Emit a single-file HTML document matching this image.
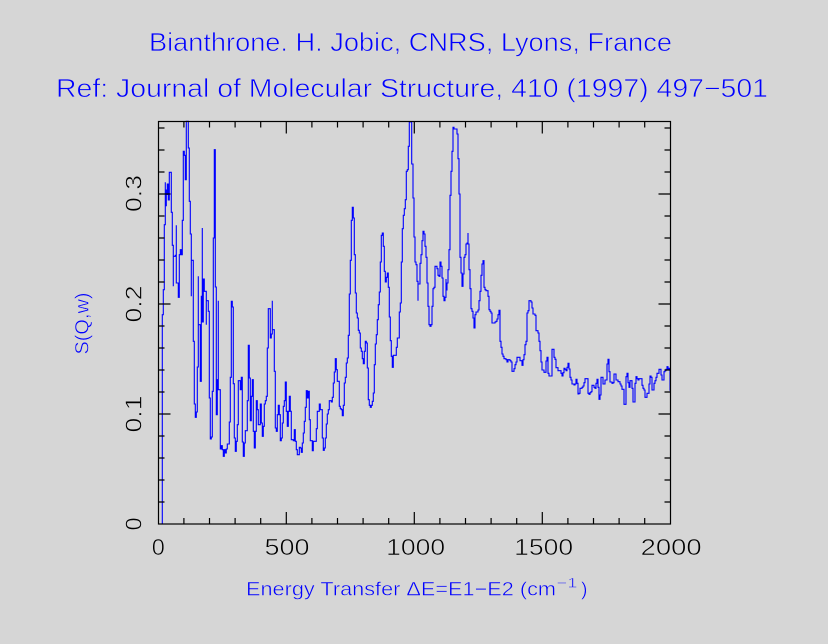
<!DOCTYPE html>
<html>
<head>
<meta charset="utf-8">
<style>
html,body{margin:0;padding:0;background:#d6d6d6;}
svg{display:block;}
text{font-family:"Liberation Sans",sans-serif;}
</style>
</head>
<body>
<svg width="828" height="644" viewBox="0 0 828 644" xmlns="http://www.w3.org/2000/svg">
<rect x="0" y="0" width="828" height="644" fill="#d6d6d6"/>

<!-- Titles -->
<g stroke="#d6d6d6" stroke-width="0.7">
<text x="149" y="51" font-size="26" fill="#0000ff" textLength="523" lengthAdjust="spacingAndGlyphs">Bianthrone. H. Jobic, CNRS, Lyons, France</text>
<text x="56" y="97" font-size="26" fill="#0000ff" textLength="712" lengthAdjust="spacingAndGlyphs">Ref: Journal of Molecular Structure, 410 (1997) 497−501</text>
</g>

<!-- Data curve -->
<path fill="none" stroke="#0000ff" stroke-width="1.1" d="M158.3 524H162.3V314.7H163.3V289.7H164.3V224.7H165.3V182.3V205.7H166.3V190H167.3V195V184H168.3V200H169.3V172.3H171.3V212.3H172.3V245.3H173.3V286.3V256.3H175.3V255.3H176.3V225.3V283H178.3V297.3H179.3V254.7H180.3V249.7H181.3V254.7H182.3V220.3H183.3V151.3H184.3V155.3H185.3V179.7H186.3V121.3H188.3V148H189.3V201.3H190.3V234H191.3V296.3V260.3H193.3V341.3H194.3V404H195.3V417.3H196.3V412H197.3V367H198.3V276.3V324.7H200.3V381.3H201.3V296.3H202.3V228V322H203.3V279H204.3V291.3H206.3V324.7V300.7H208.3V311.3H209.3V398H210.3V439H211.3V437H212.3V391.3H213.3V238H214.3V149.7H215.3V287H216.3V414.7H217.3V379.7H218.3V300.7V389.7H220.3V449H221.3V445.7H222.3V449.7H223.3V456.3H224.3V449.7H225.3V453H226.3V449H227.3V444H229.3V422H230.3V377.3H231.3V301.3H232.3V307H233.3V383.7H234.3V438H235.3V451.3H236.3V441.3H237.3V424.7H238.3V380.7H240.3V389.7H241.3V377.3H242.3V442H243.3V456.3H244.3V443H245.3V430.7H247.3V400.7H248.3V345.3H249.3V378H250.3V420.7H251.3V396.3H252.3V379.7H253.3V431.3H254.3V448H255.3V431.3H256.3V400.7H257.3V409.7H258.3V424.7H260.3V404H261.3V423H262.3V436.3H263.3V426.3H264.3V404H265.3V400.7H266.3V396.3H267.3V348H268.3V308.7H270.3V338H271.3V334H272.3V300.7V329.7H274.3V371.3H275.3V428H276.3V431.3H277.3V414.7H278.3V405.3H279.3V414.7H280.3V440.7H281.3V438H282.3V423H283.3V406.3H284.3V400.7H285.3V382H286.3V411.3H287.3V426.3H288.3V411.3H289.3V396.3H290.3V411.3H291.3V439.7H293.3V440.7H294.3V429.7H295.3V441.3H296.3V449.7H297.3V454.7H299.3V447.3H300.3V448H301.3V452.3H302.3V443H303.3V433H304.3V421.3H305.3V407.3H306.3V390.7H307.3V398H308.3V391.3H309.3V419.7H310.3V440.7H312.3V450.7H313.3V441.3H316.3V428.7H317.3V411.3H319.3V404H320.3V409.7H322.3V438H323.3V450.3H324.3V448H325.3V438H326.3V424H327.3V414H328.3V409.7H329.3V400.7H331.3V402H332.3V397.3H333.3V383H334.3V372H335.3V358.7H336.3V369.7H337.3V381.3H339.3V406.3H340.3V408.7H341.3V409.7H342.3V415.7H343.3V405.3H344.3V383H345.3V377.3H346.3V363H347.3V358H348.3V335.3H349.3V294H350.3V260.3H351.3V220.3H352.3V207.3H353.3V218H354.3V254.7H355.3V293H356.3V313H357.3V318H358.3V330.3H359.3V333H360.3V348H361.3V351.3H362.3V358.7H363.3V363.7H364.3V351.3H365.3V341.3H366.3V343H367.3V368H368.3V399.7H369.3V405.3H370.3V407.3H371.3V405.3H372.3V401.3H373.3V393H374.3V364.7H375.3V344H376.3V334.7H377.3V319.7H378.3V304.7H379.3V292H380.3V262H381.3V235.3H382.3V233H383.3V246.3H384.3V271.3H385.3V282H386.3V277.3H387.3V273H388.3V287.3H389.3V317H390.3V340.7H391.3V356.3H392.3V367.3H393.3V355.3H396.3V347.3H397.3V338H399.3V312H400.3V303H401.3V262H402.3V228.7H403.3V215.3H404.3V208.7H405.3V199.7H406.3V171.3H407.3V169.7H408.3V146.3H409.3V122H411.7V164H413V198H414V237H415V262H416V264.7H417V281.3H418V300.7V284H420V263.3H421V254.7H422V240.7H423V231.3H424V234H425V246.3H426V257.3H427V283H428V306.3H429V324.7H430V326.3H431V324.7H432V306.3H433V288.7H434V287.3H435V266.3H437V268.7H438V275.3H439V276.3H440V262H441V266.3H442V278H443V296.3H444V300.7H445V297.3H446V279V290H447V283H448V269.7H449V249.7H450V195.3H451V171.3H452V151.3H453V127.3H454V129H457V134H458V158.7H459V194H460V257.3H461V273H462V286.3H463V274H464V257.3H465V254.7H466V244H467V243H468V233V244H469V269.7H470V288.7H471V308.7H472V311.3H473V318H474V328H475V314.7H476V312H478V310H479V300.7H480V291.3H481V275.3H482V264H483V260.7H484V287.3H485V289.7H486V290.7H488V296.3H489V309.7H490V311.3H491V313H492V323H495V322H496V321.3H497V319H498V314.7H499V310.3H500V341.3H501V347.3H502V354H503V356.3H504V358.7H506V359.7H507V362H508V359.7H510V360.7H511V362H512V371.3H514V368.7H515V364.7H516V362H517V357.3H520V360.7H522V365.3H523V359.7H524V354.7H525V344.7H526V341.3H527V313H528V310.7H529V300.7H531V302H532V308H533V314H535V315.3H536V330.7H538V333H539V341.3H540V350.7H541V362H542V370H544V372.3H546V361H547V357.3H548V373.3H549V376H552V349.3H554V357.3H555V359.3H556V367.7H558V370.7H561V373.3H562V376H563V372.7H564V368.3H565V369.3H566V370.7H567V367.3H568V363.3H569V369H570V377.3H571V380H572V384H574V385H575V384H576V379.3H577V383.3H578V394H579V393.3H580V388.3H582V387.3H583V386H584V382.7H585V378.7H588V393.3H589V394.3H590V392.7H591V391.7H592V385.3H594V387.3H595V388.3H596V383.3H597V379.3H598V387.3H599V399.3H600V395H601V377.3H603V384H605V380H607V364H608V359.3H609V371.7H610V382H612V383.3H613V382.7H614V374H616V380H618V381.7H620V384H621V386H622V389.3H624V404.3H626V376.7H627V373.3H628V382.7H629V387.3H630V380.7H632V388.3H633V402H635V383.3H636V376.7H637V378.7H638V380H639V378.7H642V385.3H643V388.3H644V390H645V397.3H647V393.3H649V384H650V376H651V377.3H652V390H654V383.3H655V380.7H656V377.3H657V373.3H659V369.3H661V375H662V380H664V371.7H665V370.7H666V369.3H667V366.7H668V370H669V368.3H670V390.7"/>

<!-- Frame -->
<rect x="158.5" y="121.5" width="512" height="402.5" fill="none" stroke="#000" stroke-width="1.2"/>

<!-- Ticks -->
<path fill="none" stroke="#000" stroke-width="1.2" d="
M183.9 524v-6M209.5 524v-6M235.1 524v-6M260.7 524v-6M286.3 524v-12M311.9 524v-6M337.5 524v-6M363.1 524v-6M388.7 524v-6M414.3 524v-12M439.9 524v-6M465.5 524v-6M491.1 524v-6M516.7 524v-6M542.3 524v-12M567.9 524v-6M593.5 524v-6M619.1 524v-6M644.7 524v-6
M183.9 121.5v6M209.5 121.5v6M235.1 121.5v6M260.7 121.5v6M286.3 121.5v12M311.9 121.5v6M337.5 121.5v6M363.1 121.5v6M388.7 121.5v6M414.3 121.5v12M439.9 121.5v6M465.5 121.5v6M491.1 121.5v6M516.7 121.5v6M542.3 121.5v12M567.9 121.5v6M593.5 121.5v6M619.1 121.5v6M644.7 121.5v6
M158.5 502h6M158.5 480h6M158.5 458h6M158.5 436h6M158.5 414h12M158.5 392h6M158.5 370h6M158.5 348h6M158.5 326h6M158.5 304h12M158.5 282h6M158.5 260h6M158.5 238h6M158.5 216h6M158.5 194h12M158.5 172h6M158.5 150h6M158.5 128h6
M670.5 502h-6M670.5 480h-6M670.5 458h-6M670.5 436h-6M670.5 414h-12M670.5 392h-6M670.5 370h-6M670.5 348h-6M670.5 326h-6M670.5 304h-12M670.5 282h-6M670.5 260h-6M670.5 238h-6M670.5 216h-6M670.5 194h-12M670.5 172h-6M670.5 150h-6M670.5 128h-6"/>

<!-- X tick labels -->
<g font-size="23.5" fill="#000" text-anchor="middle" stroke="#d6d6d6" stroke-width="0.6">
<text x="158.3" y="555">0</text>
<text x="287" y="555" textLength="45" lengthAdjust="spacingAndGlyphs">500</text>
<text x="415.7" y="555" textLength="59" lengthAdjust="spacingAndGlyphs">1000</text>
<text x="543.7" y="555" textLength="59" lengthAdjust="spacingAndGlyphs">1500</text>
<text x="671.2" y="555" textLength="61" lengthAdjust="spacingAndGlyphs">2000</text>
</g>

<!-- Y tick labels -->
<g font-size="23.5" fill="#000" text-anchor="middle" stroke="#d6d6d6" stroke-width="0.6">
<text transform="translate(141.7 524) rotate(-90)">0</text>
<text transform="translate(141.7 414) rotate(-90)" textLength="37" lengthAdjust="spacingAndGlyphs">0.1</text>
<text transform="translate(141.7 304) rotate(-90)" textLength="37" lengthAdjust="spacingAndGlyphs">0.2</text>
<text transform="translate(141.7 193.5) rotate(-90)" textLength="37" lengthAdjust="spacingAndGlyphs">0.3</text>
</g>

<!-- Y axis label -->
<text transform="translate(88.3 323.5) rotate(-90)" text-anchor="middle" font-size="19.5" fill="#0000ff" stroke="#d6d6d6" stroke-width="0.5" textLength="62" lengthAdjust="spacingAndGlyphs">S(Q,w)</text>

<!-- X axis label -->
<g stroke="#d6d6d6" stroke-width="0.5">
<text x="246" y="595.7" font-size="19.5" fill="#0000ff" textLength="310" lengthAdjust="spacingAndGlyphs">Energy Transfer ΔE=E1−E2 (cm</text>
<text x="556.5" y="587.3" font-size="14" fill="#0000ff" textLength="21" lengthAdjust="spacingAndGlyphs">−1</text>
<text x="581" y="595.7" font-size="19.5" fill="#0000ff">)</text>
</g>
</svg>
</body>
</html>
